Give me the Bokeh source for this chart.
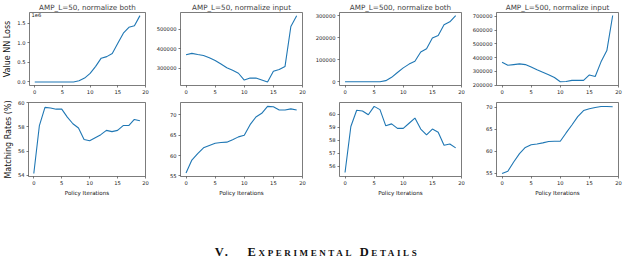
from bokeh.plotting import figure
from bokeh.layouts import column, row
from bokeh.models import Range1d, FixedTicker, CustomJSTickFormatter, Label, Div, NumeralTickFormatter
from bokeh.embed import file_html
from bokeh.resources import INLINE

iterations = list(range(20))
loss_l50_both = [0, 0, 0, 0, 0, 0, 0, 0, 30000, 100000, 220000, 400000, 610000, 650000, 730000, 990000, 1250000, 1400000, 1440000, 1700000]
loss_l50_input = [370000, 377000, 371000, 366000, 354000, 340000, 322000, 303000, 290000, 275000, 240000, 250000, 250000, 240000, 230000, 285000, 294000, 310000, 515000, 570000]
loss_l500_both = [0, 0, 0, 0, 0, 0, 0, 5000, 20000, 42000, 63000, 80000, 93000, 135000, 150000, 198000, 210000, 258000, 272000, 300000]
loss_l500_input = [367000, 345000, 350000, 355000, 350000, 332000, 312000, 295000, 277000, 256000, 225000, 227000, 235000, 235000, 235000, 275000, 263000, 370000, 452000, 707000]
match_l50_both = [54.15, 58.1, 59.6, 59.55, 59.45, 59.45, 58.8, 58.25, 57.9, 56.95, 56.85, 57.1, 57.35, 57.7, 57.6, 57.7, 58.1, 58.1, 58.6, 58.5]
match_l50_input = [55.7, 58.9, 60.5, 61.9, 62.5, 63.05, 63.2, 63.3, 63.9, 64.6, 65.0, 67.6, 69.5, 70.4, 72.1, 72.0, 71.2, 71.2, 71.5, 71.2]
match_l500_both = [55.5, 59.05, 60.3, 60.25, 59.95, 60.6, 60.35, 59.1, 59.25, 58.9, 58.9, 59.3, 59.7, 58.85, 58.4, 58.85, 58.6, 57.6, 57.7, 57.4]
match_l500_input = [55.0, 55.5, 57.6, 59.5, 60.9, 61.5, 61.7, 61.95, 62.25, 62.3, 62.3, 64.2, 66.0, 67.9, 69.3, 69.7, 70.0, 70.2, 70.2, 70.15]

titles = ["AMP_L=50, normalize both", "AMP_L=50, normalize input",
          "AMP_L=500, normalize both", "AMP_L=500, normalize input"]
x_ticks = [0, 5, 10, 15, 20]
x_limits = (-0.95, 20.0)
loss_ticks = [[0, 500000, 1000000, 1500000], [300000, 400000, 500000],
              [0, 100000, 200000, 300000], [200000, 300000, 400000, 500000, 600000, 700000]]
match_ticks = [[54, 56, 58, 60], [55, 60, 65, 70], [56, 57, 58, 59, 60], [55, 60, 65, 70]]
loss_limits = [(-90000, 1780000), (212000, 587000), (-17000, 314000), (198000, 729000)]
match_limits = [(53.9, 60.0), (54.85, 73.06), (55.19, 60.9), (54.3, 71.12)]

LINE = "#1f77b4"
FONT = "DejaVu Sans"

col_widths = [150, 158, 157, 159]
col_left = [23, 30, 31, 31]
col_right = [5, 6, 4, 6]


def make_fig(ci, h, top, bottom, ys, ylim, yticks, title=None, ylabel=None, xlabel=None, fmt=None):
    p = figure(width=col_widths[ci], height=h, output_backend="svg", toolbar_location=None,
               x_range=Range1d(*x_limits), y_range=Range1d(*ylim),
               min_border_left=col_left[ci], min_border_right=col_right[ci],
               min_border_top=top, min_border_bottom=bottom)
    p.line(iterations, ys, line_color=LINE, line_width=1.1)
    p.grid.visible = False
    p.outline_line_color = "#444444"
    p.outline_line_width = 0.7
    p.background_fill_color = "white"
    p.border_fill_color = None
    for ax in (p.xaxis[0], p.yaxis[0]):
        ax.axis_line_color = None
        ax.major_tick_line_color = "#444444"
        ax.major_tick_line_width = 0.7
        ax.major_tick_out = 2
        ax.major_tick_in = 0
        ax.minor_tick_line_color = None
        ax.major_label_text_font = FONT
        ax.major_label_text_font_size = "5.2px"
        ax.major_label_text_color = "#222222"
        ax.major_label_standoff = 2
        ax.axis_label_text_font = FONT
        ax.axis_label_text_font_style = "normal"
        ax.axis_label_standoff = 2
        ax.axis_label_text_color = "#111111"
    p.xaxis[0].ticker = FixedTicker(ticks=x_ticks)
    p.yaxis[0].ticker = FixedTicker(ticks=yticks)
    p.yaxis[0].formatter = fmt if fmt is not None else NumeralTickFormatter(format="0")
    if ylabel:
        p.yaxis[0].axis_label = ylabel
        p.yaxis[0].axis_label_text_font_size = "8px"
    if xlabel:
        p.xaxis[0].axis_label = xlabel
        p.xaxis[0].axis_label_text_font_size = "5.6px"
    if title:
        p.title.text = title
        p.title.align = "center"
        p.title.text_font = FONT
        p.title.text_font_style = "normal"
        p.title.text_font_size = "7.2px"
        p.title.standoff = 1
        p.title.offset = 0
    return p


loss_series = [loss_l50_both, loss_l50_input, loss_l500_both, loss_l500_input]
match_series = [match_l50_both, match_l50_input, match_l500_both, match_l500_input]

top_row = []
for i in range(4):
    fmt = CustomJSTickFormatter(code="return (tick/1e6).toFixed(1);") if i == 0 else None
    p = make_fig(i, 96, 10, 11, loss_series[i], loss_limits[i], loss_ticks[i],
                 title=titles[i], ylabel="Value NN Loss" if i == 0 else None, fmt=fmt)
    if i == 0:
        p.add_layout(Label(x=2, y=73, x_units="screen", y_units="screen", text="1e6",
                           text_align="left", text_baseline="top",
                           text_font=FONT, text_font_size="5.2px", text_color="#222222"))
    top_row.append(p)

bottom_row = []
for i in range(4):
    p = make_fig(i, 102, 6, 20, match_series[i], match_limits[i], match_ticks[i],
                 ylabel="Matching Rates (%)" if i == 0 else None, xlabel="Policy Iterations")
    bottom_row.append(p)

section = Div(text=('<div style="width:624px;text-align:center;padding-top:43px;'
                    'font-family:\'Liberation Serif\';font-size:12.5px;line-height:12px;'
                    'font-weight:bold;letter-spacing:2.6px;color:#111;">'
                    'V.&nbsp;&nbsp;&nbsp;<span style="font-variant:small-caps;">Experimental Details</span></div>'),
              width=624, height=55)

layout = column(row(*top_row), row(*bottom_row), section)
open("out.html", "w").write(file_html(layout, INLINE))
